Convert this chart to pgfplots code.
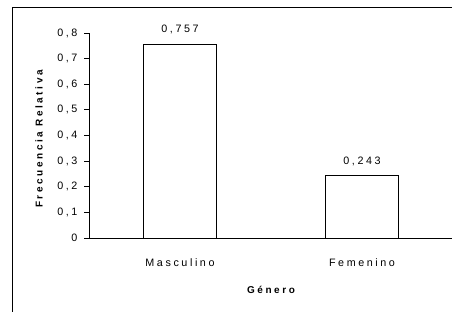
\documentclass[border=0pt]{standalone}
\usepackage{pgfplots}
\pgfplotsset{compat=1.18}
\usepackage{fontspec}
\setmainfont{Liberation Sans}[LetterSpace=24]
\newfontfamily\boldsp{Liberation Sans Bold}[LetterSpace=26]
\begin{document}
\begin{tikzpicture}[x=1bp,y=1bp]
\useasboundingbox (0,0) rectangle (452,311);
\draw[line width=1.2bp] (12.3,-5) -- (12.3,303.7) -- (460,303.7);
\begin{axis}[
  at={(89bp,73bp)}, anchor=south west,
  scale only axis, width=364bp, height=205bp,
  xmin=-0.5, xmax=1.5, ymin=0, ymax=0.8,
  axis x line=bottom, axis y line=left,
  axis line style={-, line width=1bp},
  xtick={0,1}, xticklabels={Masculino,Femenino},
  major x tick style={draw=none},
  extra x ticks={-0.5,0.5}, extra x tick labels={},
  extra x tick style={major tick length=5bp, tick style={draw=black, line width=0.8bp}},
  ytick={0,0.1,...,0.8},
  tick align=outside, major tick length=5bp,
  tick style={line width=0.8bp, black},
  font=\fontsize{10.8}{12}\selectfont,
  /pgf/number format/.cd, fixed, precision=3, use comma, assume math mode=true,
  /pgfplots/.cd,
  yticklabel style={/pgf/number format/precision=1, xshift=-3bp},
  xticklabel style={yshift=-12bp},
  ylabel={\fontsize{10}{12}\boldsp Frecuencia Relativa},
  xlabel={\fontsize{10}{12}\boldsp Género},
  ylabel style={at={(axis description cs:-0.137,0.483)}, anchor=center},
  xlabel style={at={(axis description cs:0.5,0)}, yshift=-52bp, anchor=center},
  nodes near coords,
  every node near coord/.append style={yshift=6bp, font=\fontsize{10.8}{12}\selectfont},
  clip=false,
]
\addplot[ybar, bar width=73bp, draw=black, fill=white, line width=0.9bp] coordinates {(0,0.757) (1,0.243)};
\end{axis}
\end{tikzpicture}
\end{document}
